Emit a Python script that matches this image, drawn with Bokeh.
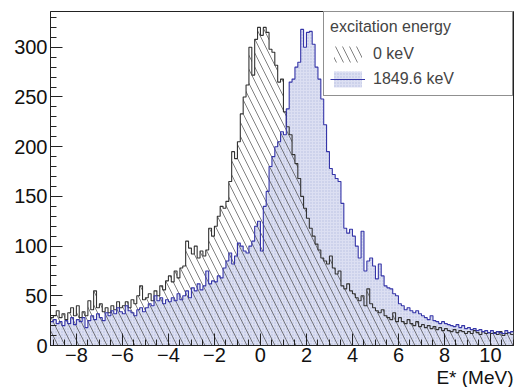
import numpy as np
from bokeh.plotting import figure
from bokeh.models import Range1d, FixedTicker, Legend, LegendItem, Title
from bokeh.embed import file_html
from bokeh.resources import INLINE

# ---- data ----
x_min = -9.125
bin_width = 0.125

ground = [28,
    30, 35, 28, 32, 26, 33, 38, 30,
    40, 28, 34, 30, 45, 36, 55, 38,
    42, 34, 38, 33, 40, 36, 44, 38,
    40, 44, 38, 46, 42, 50, 60, 46,
    48, 52, 45, 55, 50, 60, 56, 65,
    70, 64, 75, 68, 78, 80, 105, 98,
    92, 100, 88, 95, 90, 96, 118, 110,
    120, 130, 140, 138, 145, 165, 195, 188,
    205, 233, 250, 262, 300, 272, 308, 320,
    312, 320, 315, 298, 295, 282, 265, 268,
    235, 220, 212, 192, 183, 168, 150, 138,
    128, 118, 110, 102, 96, 88, 85, 82,
    90, 78, 72, 75, 60, 57, 62, 55,
    52, 48, 45, 50, 40, 57, 42, 38,
    35, 33, 36, 30, 28, 26, 33, 24,
    28, 24, 22, 26, 22, 20, 24, 19,
    21, 18, 20, 17, 19, 16, 18, 15,
    17, 15, 14, 16, 13, 15, 14, 12,
    14, 12, 15, 13, 11, 14, 12, 13,
    12, 13, 11, 14, 10, 12, 13, 11]

excited = [24,
    26, 22, 24, 20, 25, 22, 28, 21,
    26, 24, 28, 18, 25, 30, 26, 32,
    28, 25, 33, 30, 35, 32, 38, 34,
    32, 40, 35, 33, 30, 36, 38, 34,
    38, 42, 40, 50, 45, 48, 42, 46,
    44, 48, 45, 52, 46, 50, 55, 48,
    58, 55, 62, 56, 60, 75, 62, 65,
    64, 70, 68, 78, 85, 93, 82, 90,
    103, 100, 95, 93, 100, 105, 120, 125,
    95, 140, 155, 180, 190, 200, 205, 215,
    212, 238, 265, 268, 280, 285, 318, 300,
    315, 316, 303, 280, 268, 248, 222, 195,
    178, 172, 168, 165, 143, 118, 113, 117,
    110, 100, 88, 115, 75, 85, 88, 80,
    67, 82, 70, 60, 58, 57, 52, 50,
    42, 40, 36, 38, 35, 33, 35, 32,
    30, 28, 26, 30, 25, 24, 22, 24,
    22, 21, 20, 19, 21, 18, 20, 17,
    18, 16, 17, 15, 16, 14, 15, 13,
    15, 12, 14, 13, 12, 15, 13, 14]

labels = ["0 keV", "1849.6 keV"]
legend_title = "excitation energy"
x_label = "E* (MeV)"
x_ticks = [-8, -6, -4, -2, 0, 2, 4, 6, 8, 10]
y_ticks = [0, 50, 100, 150, 200, 250, 300]

edges = x_min + bin_width * np.arange(len(ground) + 1)
g_step = list(ground) + [ground[-1]]
e_step = list(excited) + [excited[-1]]

FONT = "Liberation Sans"

p = figure(width=515, height=387, output_backend="svg", toolbar_location=None,
           x_range=Range1d(edges[0], edges[-1]), y_range=Range1d(0, 336),
           min_border_left=50, min_border_right=2, min_border_top=11, min_border_bottom=0)
p.xgrid.visible = False
p.ygrid.visible = False
p.outline_line_color = "#222222"
p.outline_line_width = 1
p.background_fill_color = "white"
p.border_fill_color = "white"

blue_fill = p.varea_step(x=edges, y1=0, y2=e_step, step_mode="after",
                         fill_color="#dcdff2", fill_alpha=1.0,
                         hatch_pattern="dot", hatch_color="#9fa6d6",
                         hatch_scale=3, hatch_weight=1, hatch_alpha=0.6)
black_hatch = p.varea_step(x=edges, y1=0, y2=g_step, step_mode="after",
                           fill_alpha=0.0, hatch_pattern="left_diagonal_line",
                           hatch_color="#444444", hatch_scale=14, hatch_weight=0.8,
                           hatch_alpha=0.85)
black_line = p.step(x=edges, y=g_step, mode="after", line_color="#333333", line_width=1.1)
blue_line = p.step(x=edges, y=e_step, mode="after", line_color="#3535a8", line_width=1.1)

for ax in (p.xaxis[0], p.yaxis[0]):
    ax.major_tick_in = 12
    ax.major_tick_out = 0
    ax.minor_tick_in = 6
    ax.minor_tick_out = 0
    ax.major_label_text_font = FONT
    ax.major_label_text_font_size = "20px"
    ax.major_label_text_color = "#111111"
    ax.axis_line_color = "#222222"
    ax.major_tick_line_color = "#222222"
    ax.minor_tick_line_color = "#222222"

p.xaxis[0].ticker = FixedTicker(ticks=x_ticks,
                                minor_ticks=[v / 2 for v in range(-18, 23)])
p.yaxis[0].ticker = FixedTicker(ticks=y_ticks, minor_ticks=list(range(0, 340, 10)))
p.xaxis[0].major_label_standoff = 2
p.yaxis[0].major_label_standoff = 3

legend = Legend(items=[LegendItem(label=labels[0], renderers=[black_hatch]),
                       LegendItem(label=labels[1], renderers=[blue_fill, blue_line])],
                title=legend_title, location="top_right", margin=0,
                padding=6, spacing=5, glyph_width=35, glyph_height=20,
                label_width=133, label_standoff=8,
                label_text_font=FONT, label_text_font_size="16px",
                title_text_font=FONT, title_text_font_size="16px",
                title_text_font_style="normal", title_standoff=8,
                border_line_color="#222222", border_line_width=1,
                background_fill_color="white", background_fill_alpha=1.0)
p.add_layout(legend)

p.add_layout(Title(text=x_label, align="right", text_font=FONT,
                   text_font_size="19px", text_font_style="normal",
                   text_color="#111111", standoff=0, offset=0), "below")

open("out.html", "w").write(file_html(p, INLINE))
